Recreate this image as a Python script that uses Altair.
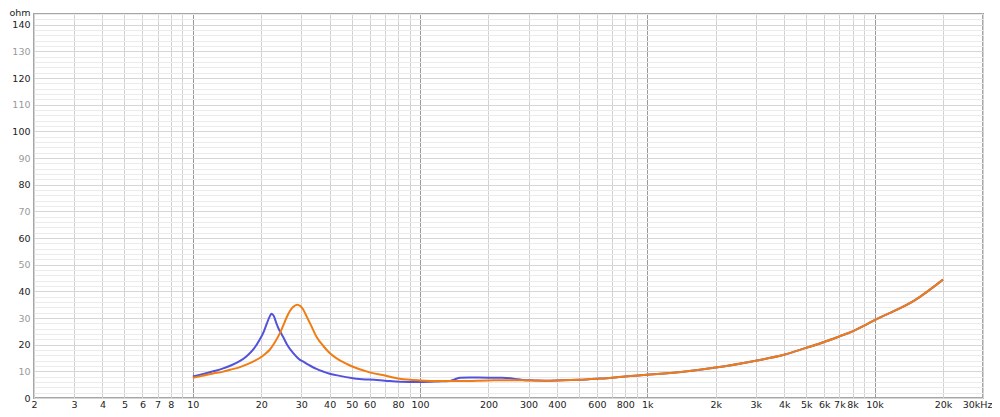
import altair as alt
import pandas as pd

# Impedance curves (Hz, ohm)
blue_f = [10, 11, 12.3, 13.5, 14.6, 16, 17.2, 18.5, 19.7, 20.5, 21.2, 21.8, 22.2, 22.7, 23.3, 24.0, 24.5, 25.2,
          26, 27.6, 29.5, 30.5, 33, 35, 37.5, 40, 44.3, 50, 54, 60, 70, 81.5, 100, 120, 135, 142, 150, 165, 200,
          230, 250, 270, 290, 320, 372, 500, 600, 700, 800, 1000, 1500, 2000, 3000, 4000, 5000, 6000, 7000,
          8000, 9000, 10000, 15000, 20000]
blue_z = [8.1, 8.9, 10.0, 11.0, 12.1, 13.7, 15.6, 18.3, 21.9, 24.8, 28.1, 30.6, 31.6, 30.8, 28.1, 25.5, 24.2, 22.2,
          20.0, 16.9, 14.4, 13.7, 12.0, 10.9, 9.9, 9.1, 8.3, 7.5, 7.1, 6.9, 6.5, 6.1, 6.0, 6.2, 6.4, 7.0, 7.6, 7.7, 7.6,
          7.6, 7.4, 7.0, 6.7, 6.6, 6.5, 6.8, 7.2, 7.6, 8.1, 8.7, 10.0, 11.4, 14.0, 16.2, 18.8, 21.0, 23.1,
          25.0, 27.1, 29.2, 36.6, 44.4]

orange_f = [10, 11, 12.3, 13.5, 14.6, 16, 17.2, 18.5, 19.7, 20.8, 21.8, 23, 24.2, 25.0, 25.8, 26.7, 27.6, 28.8,
            29.7, 30.5, 31.7, 33, 35, 37.5, 40, 45, 50, 60, 70, 81.5, 100, 125, 150, 200, 250, 300, 372, 500,
            600, 700, 800, 1000, 1500, 2000, 3000, 4000, 5000, 6000, 7000, 8000, 9000, 10000, 15000, 20000]
orange_z = [7.6, 8.3, 9.2, 9.8, 10.6, 11.5, 12.5, 13.7, 15.0, 16.5, 18.1, 21.0, 24.4, 27.2, 30.0, 32.5, 34.1, 35.0,
            34.5, 33.4, 30.5, 27.5, 23.0, 19.5, 16.9, 13.8, 11.9, 9.6, 8.4, 7.2, 6.6, 6.4, 6.4, 6.6, 6.7, 6.6, 6.5,
            6.8, 7.2, 7.6, 8.1, 8.7, 10.0, 11.4, 14.0, 16.2, 18.8, 21.0, 23.1, 25.0, 27.1, 29.2, 36.6, 44.4]

series_names = ["A", "B"]
series_colors = ["#5252dc", "#f07d14"]

# Axis ticks / labels
x_grid = [2, 3, 4, 5, 6, 7, 8, 9,
          10, 20, 30, 40, 50, 60, 70, 80, 90,
          100, 200, 300, 400, 500, 600, 700, 800, 900,
          1000, 2000, 3000, 4000, 5000, 6000, 7000, 8000, 9000,
          10000, 20000, 30000]
x_labels = [2, 3, 4, 5, 6, 7, 8, 10, 20, 30, 40, 50, 60, 80, 100, 200, 300, 400, 600, 800,
            1000, 2000, 3000, 4000, 5000, 6000, 7000, 8000, 10000, 20000, 30000]
x_decades = [10, 100, 1000, 10000]
y_grid = list(range(0, 146, 2))

df = pd.concat([
    pd.DataFrame({"f": blue_f, "z": blue_z, "s": series_names[0]}),
    pd.DataFrame({"f": orange_f, "z": orange_z, "s": series_names[1]}),
])

lab_arr = "[" + ",".join(str(v) for v in x_labels) + "]"
dec_test = " || ".join(f"datum.value == {d}" for d in x_decades)
x_label_expr = (f"indexof({lab_arr}, datum.value) >= 0 ? "
                "(datum.value >= 30000 ? '30kHz' : (datum.value >= 1000 ? (datum.value/1000) + 'k' : '' + datum.value)) : ''")

FONT = "DejaVu Sans"

x_axis = alt.Axis(
    values=x_grid, labelExpr=x_label_expr, grid=True,
    gridColor={"condition": {"test": dec_test, "value": "#9a9a9a"}, "value": "#d2d2d2"},
    gridWidth=1, ticks=False, domain=False, title=None,
    labelPadding=9.5, labelFontSize=9.5, labelFont=FONT, labelColor="#222222",
    labelOverlap=False, labelFlush=False, labelBaseline="alphabetic",
    labelAlign={"condition": {"test": "datum.value >= 30000", "value": "right"}, "value": "center"},
    labelOffset={"condition": {"test": "datum.value >= 30000", "value": 9}, "value": 0},
)
y_axis = alt.Axis(
    values=y_grid, labelExpr="datum.value % 10 == 0 && datum.value <= 140 ? '' + datum.value : ''",
    grid=True,
    gridColor={"condition": {"test": "datum.value % 10 == 0", "value": "#d6d6d6"}, "value": "#ebebeb"},
    labelColor={"condition": {"test": "datum.value % 20 == 0", "value": "#222222"}, "value": "#9a9a9a"},
    ticks=False, domain=False, labelPadding=4, labelFontSize=9.5, labelFont=FONT,
    labelOverlap=False, labelFlush=False,
    title="ohm", titleAngle=0, titleX=-4, titleY=1, titleAlign="right", titleBaseline="alphabetic",
    titleFont=FONT, titleFontSize=9.5, titleFontWeight="normal", titleColor="#222222",
)

chart = alt.Chart(df).mark_line(strokeWidth=2, interpolate="monotone").encode(
    x=alt.X("f:Q", scale=alt.Scale(type="log", domain=[2, 30000], nice=False), axis=x_axis),
    y=alt.Y("z:Q", scale=alt.Scale(domain=[0, 144], nice=False, zero=True), axis=y_axis),
    color=alt.Color("s:N", scale=alt.Scale(domain=series_names, range=series_colors), legend=None),
    order=alt.Order("f:Q"),
).properties(
    width=949, height=384,
    autosize=alt.AutoSizeParams(type="none"),
    padding={"left": 26, "top": 6, "right": 9, "bottom": 11},
    background="white",
).configure_view(
    stroke="#a6a6a6", strokeWidth=2,
)

chart.save("out.html", embed_options={"renderer": "svg", "actions": False})
